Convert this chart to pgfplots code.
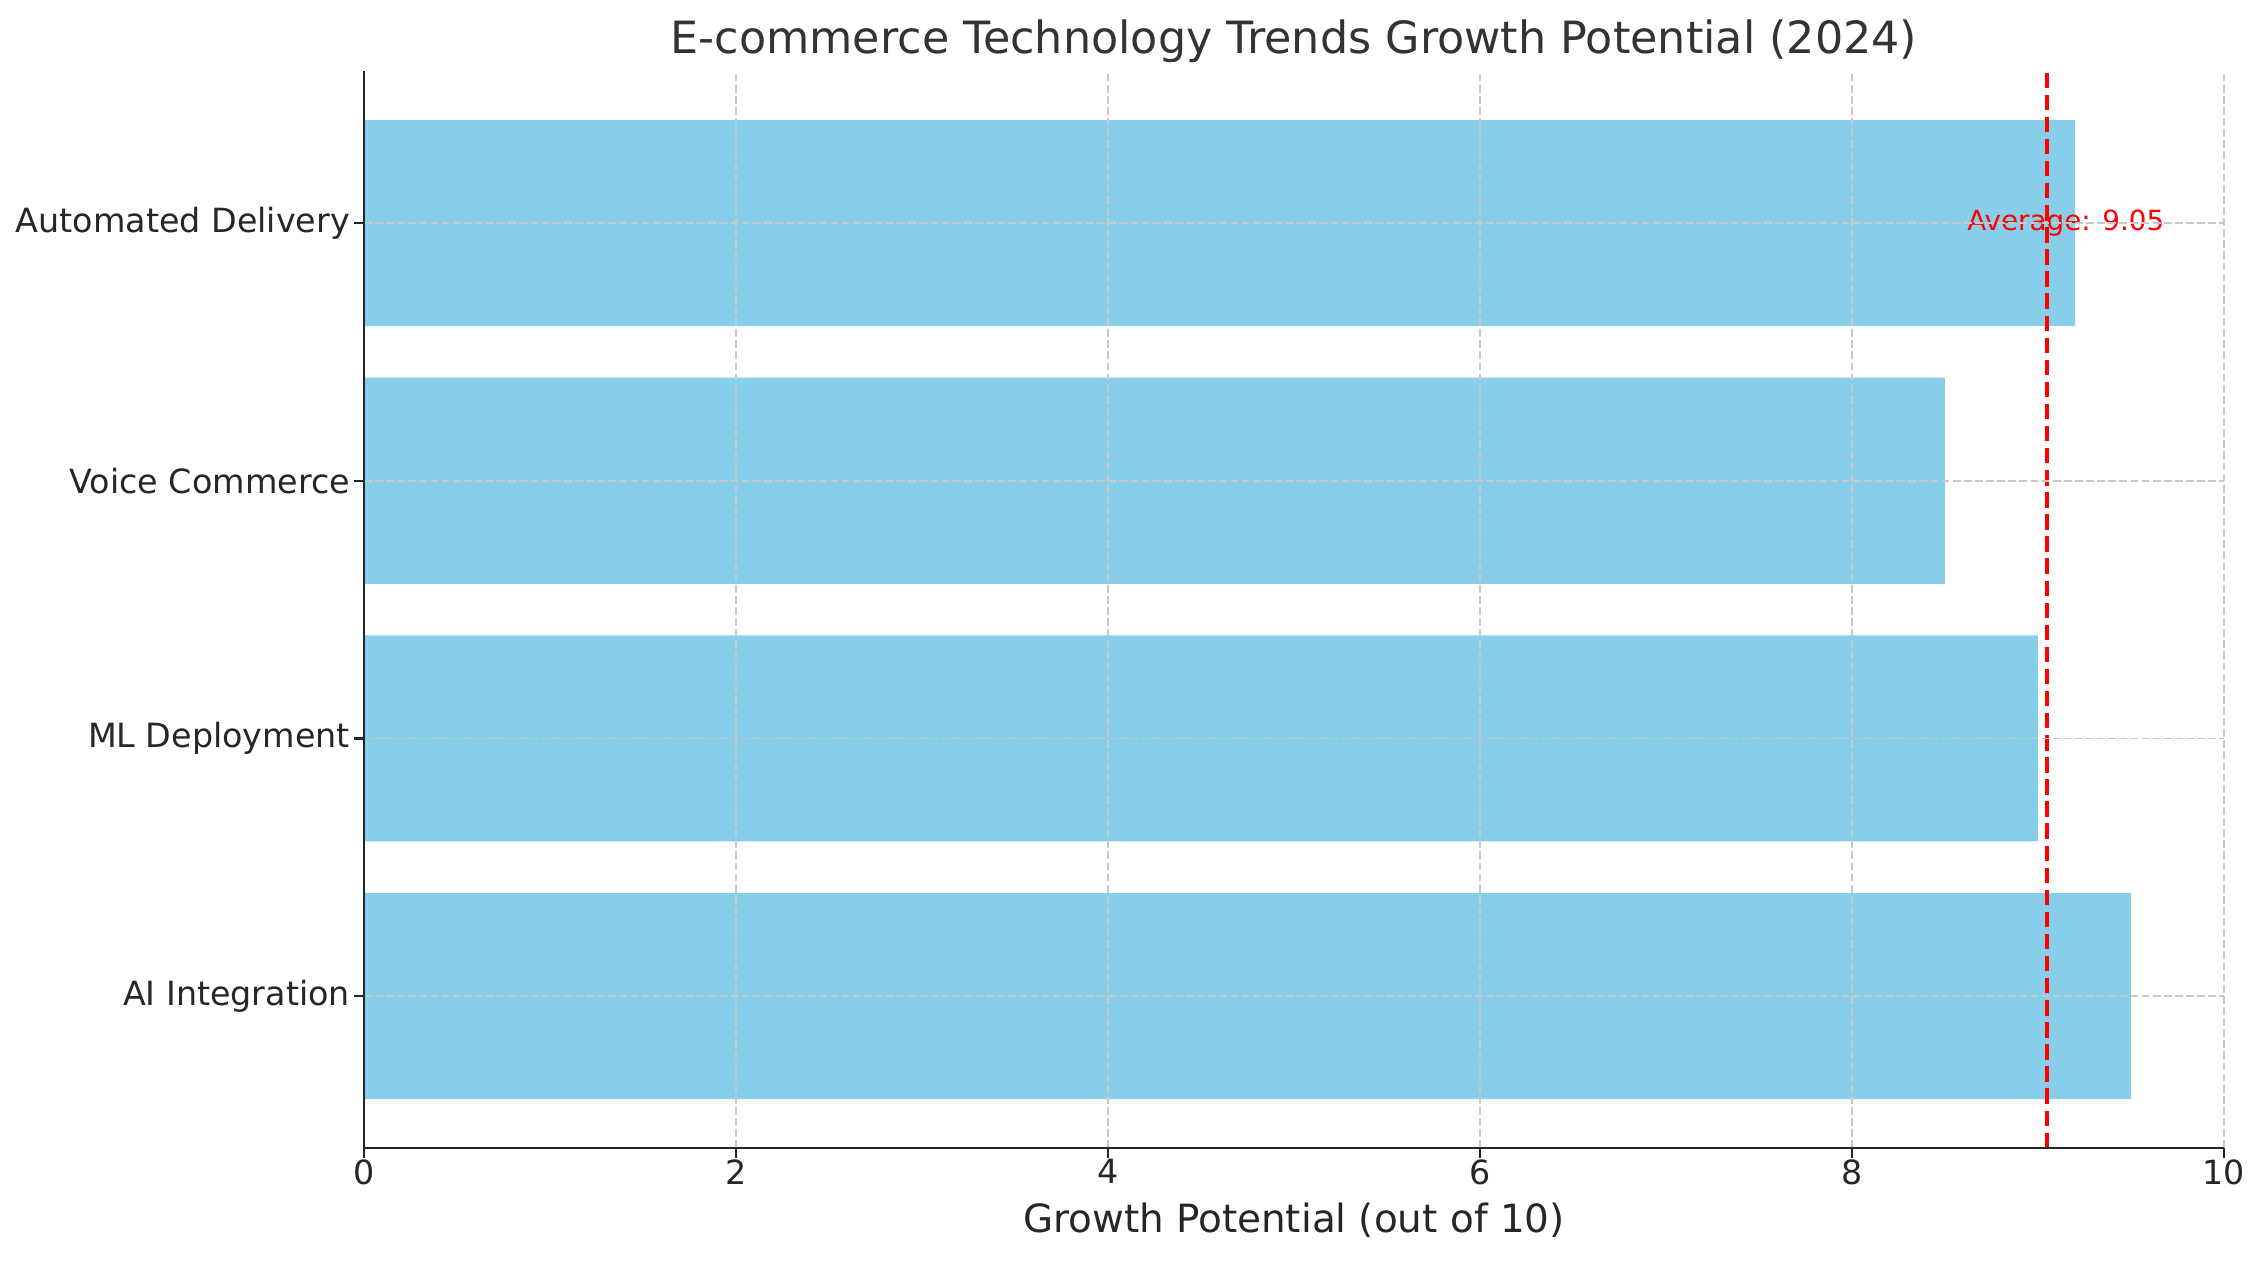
\documentclass[border=0pt]{standalone}
\usepackage{fontspec}
\setmainfont{DejaVu Sans}
\usepackage{pgfplots}
\pgfplotsset{compat=1.18}
\definecolor{skyblue}{RGB}{135,206,235}
\definecolor{txt}{RGB}{38,38,38}
\definecolor{ttl}{RGB}{51,51,51}
\definecolor{gridc}{RGB}{200,200,200}
\begin{document}
\begin{tikzpicture}
\useasboundingbox (0,0) rectangle (815.4pt,453.6pt);
\begin{axis}[
  at={(131pt,40.3pt)}, anchor=south west,
  scale only axis, width=669.6pt, height=387.7pt,
  xmin=0, xmax=10, ymin=-0.59, ymax=3.59,
  axis x line*=bottom, axis y line*=left,
  axis line style={txt, line width=0.9pt},
  tick align=outside, major tick length=3.5pt,
  tick style={txt, line width=0.8pt},
  xtick={0,2,4,6,8,10},
  ytick={0,1,2,3},
  yticklabels={AI Integration, ML Deployment, Voice Commerce, Automated Delivery},
  /pgf/number format/assume math mode=true,
  tick label style={font=\fontsize{12}{14}\selectfont, text=txt},
  xticklabel style={yshift=3pt},
  yticklabel style={xshift=2pt},
  grid=major,
  major grid style={gridc, line width=0.6pt, dash pattern=on 2.8pt off 1.2pt},
  axis on top,
  title={E-commerce Technology Trends Growth Potential (2024)},
  title style={font=\fontsize{16}{19}\selectfont, text=ttl, at={(0.5,1)}, anchor=base, inner sep=0pt, yshift=0.5pt},
  xlabel={Growth Potential (out of 10)},
  xlabel style={font=\fontsize{14}{17}\selectfont, text=txt, at={(0.5,0)}, anchor=north, inner sep=0pt, yshift=-19.5pt},
  clip=false,
]
\addplot[xbar, bar width=0.8, bar shift=0pt, fill=skyblue, draw=none]
  coordinates {(9.5,0) (9.0,1) (8.5,2) (9.2,3)};
\addplot[red, line width=1.5pt, dash pattern=on 5.55pt off 2.4pt, forget plot]
  coordinates {(9.05,-0.59) (9.05,3.59)};
\node[text=red, font=\fontsize{10}{12}\selectfont, anchor=center, inner sep=0pt] at (axis cs:9.15,3) {Average: 9.05};
\end{axis}
\end{tikzpicture}
\end{document}
